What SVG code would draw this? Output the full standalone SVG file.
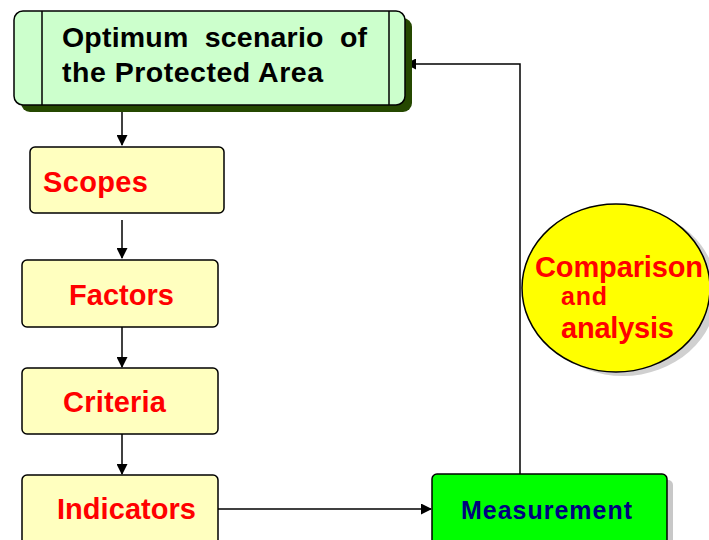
<svg xmlns="http://www.w3.org/2000/svg" width="709" height="540" viewBox="0 0 709 540">
<defs>
<style>
.box{fill:#FFFFBF;stroke:#000;stroke-width:1.5}
.lbl{font-family:"Liberation Sans",Arial,sans-serif;font-weight:bold;fill:#FF0000}
.ln{fill:none;stroke:#000;stroke-width:1.5}
</style>
<marker id="ah" markerWidth="11" markerHeight="11" refX="10" refY="5.5" orient="auto" markerUnits="userSpaceOnUse">
<path d="M0,0 L11,5.5 L0,11 z" fill="#000"/>
</marker>
</defs>
<rect width="709" height="540" fill="#fff"/>
<g id="connectors">
<line class="ln" x1="122" y1="112" x2="122" y2="145" marker-end="url(#ah)"/>
<line class="ln" x1="122" y1="220" x2="122" y2="258" marker-end="url(#ah)"/>
<line class="ln" x1="122" y1="327" x2="122" y2="367" marker-end="url(#ah)"/>
<line class="ln" x1="122" y1="434" x2="122" y2="474" marker-end="url(#ah)"/>
<line class="ln" x1="218" y1="509" x2="431" y2="509" marker-end="url(#ah)"/>
<polyline class="ln" points="520,474 520,64 406,64" marker-end="url(#ah)"/>
</g>
<g id="optimum">
<rect x="21" y="18" width="391" height="94" rx="9" fill="#254800"/>
<rect x="14" y="11" width="391" height="94" rx="9" fill="#CCFFCC" stroke="#000" stroke-width="1.5"/>
<line x1="42" y1="11" x2="42" y2="105" stroke="#000" stroke-width="1.5"/>
<line x1="389" y1="11" x2="389" y2="105" stroke="#000" stroke-width="1.5"/>
<text x="62" y="47" xml:space="preserve" style="white-space:pre" font-family="Liberation Sans,Arial,sans-serif" font-weight="bold" font-size="28.5" fill="#000" textLength="305" lengthAdjust="spacing">Optimum  scenario  of</text>
<text x="62" y="82" font-family="Liberation Sans,Arial,sans-serif" font-weight="bold" font-size="28.5" fill="#000" textLength="261" lengthAdjust="spacing">the Protected Area</text>
</g>
<g id="scopes">
<rect class="box" x="30" y="147" width="194" height="66" rx="5"/>
<text class="lbl" x="43" y="192" font-size="29" textLength="105" lengthAdjust="spacing">Scopes</text>
</g>
<g id="factors">
<rect class="box" x="22" y="260" width="196" height="67" rx="5"/>
<text class="lbl" x="69" y="305" font-size="29" textLength="105" lengthAdjust="spacing">Factors</text>
</g>
<g id="criteria">
<rect class="box" x="22" y="368" width="196" height="66" rx="5"/>
<text class="lbl" x="63" y="412" font-size="29" textLength="103" lengthAdjust="spacing">Criteria</text>
</g>
<g id="indicators">
<rect class="box" x="22" y="475" width="196" height="80" rx="5"/>
<text class="lbl" x="57" y="519" font-size="29" textLength="139" lengthAdjust="spacing">Indicators</text>
</g>
<g id="measurement">
<rect x="438" y="480" width="235" height="80" rx="5" fill="#C8C8C8"/>
<rect x="432" y="474" width="235" height="80" rx="5" fill="#00FF00" stroke="#000" stroke-width="1.5"/>
<text x="461" y="519" font-family="Liberation Sans,Arial,sans-serif" font-weight="bold" font-size="25" fill="#000080" textLength="171" lengthAdjust="spacing">Measurement</text>
</g>
<g id="comparison">
<ellipse cx="623" cy="292" rx="94" ry="84" fill="#D0D0D0"/>
<ellipse cx="616" cy="288" rx="94" ry="84" fill="#FFFF00" stroke="#000" stroke-width="1.5"/>
<text class="lbl" x="535" y="277" font-size="29" textLength="168" lengthAdjust="spacing">Comparison</text>
<text class="lbl" x="561" y="305" font-size="25" textLength="46" lengthAdjust="spacing">and</text>
<text class="lbl" x="561" y="338" font-size="29" textLength="113" lengthAdjust="spacing">analysis</text>
</g>
</svg>
